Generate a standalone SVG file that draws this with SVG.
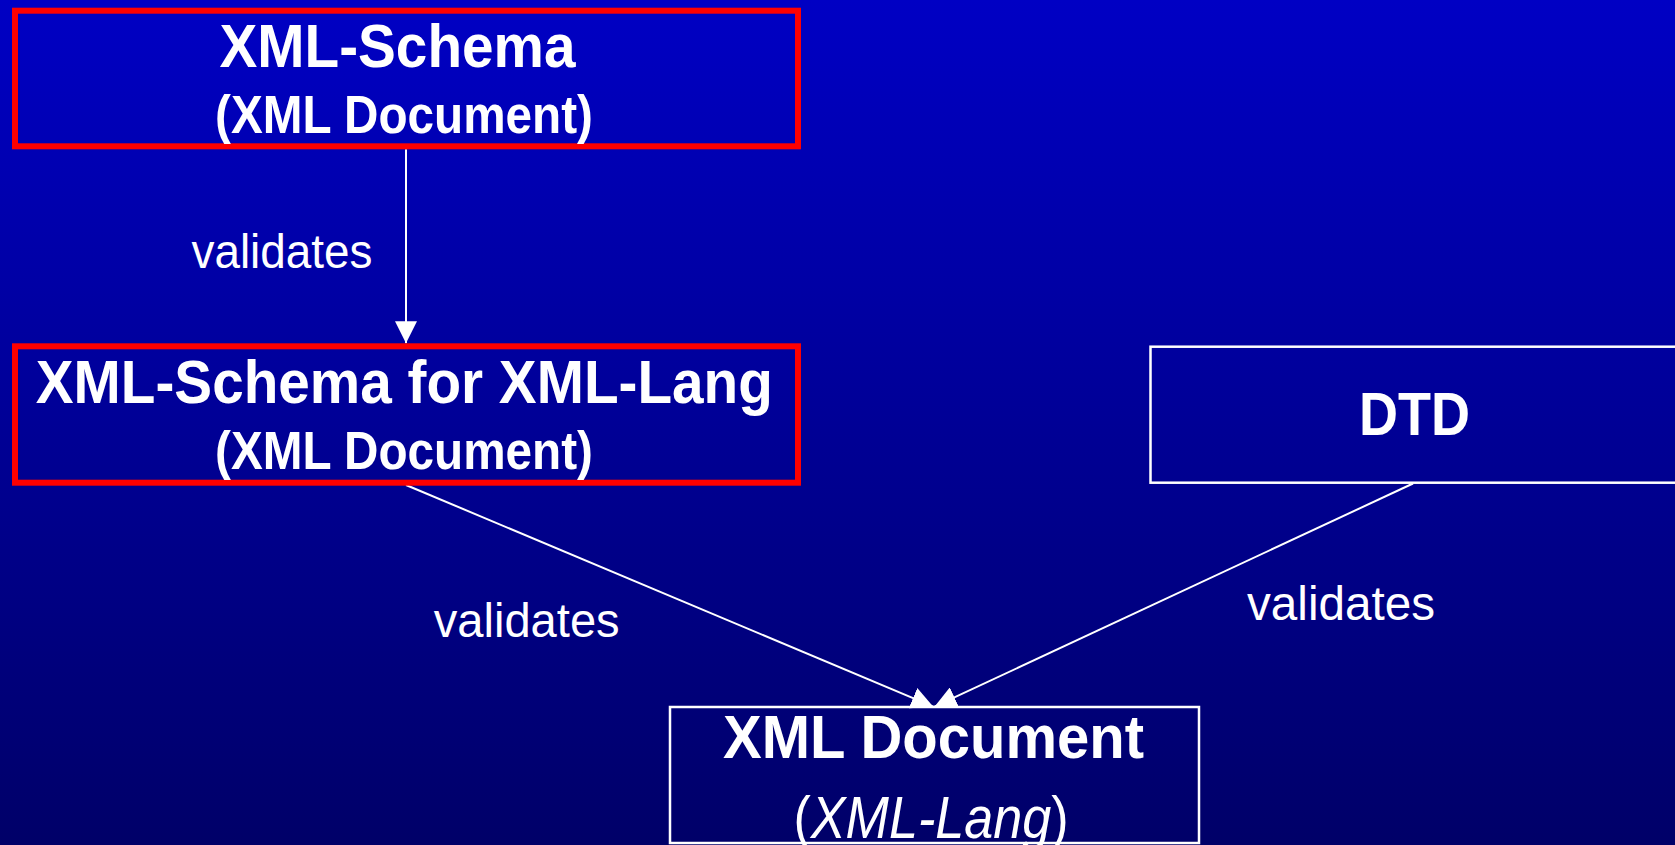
<svg xmlns="http://www.w3.org/2000/svg" width="1675" height="845" viewBox="0 0 1675 845">
<style>
.t{font-family:"Liberation Sans",Arial,sans-serif;fill:#fff;text-anchor:middle}
.b{font-weight:bold}
.red{fill:none;stroke:#ff0000;stroke-width:6}
.wb{fill:none;stroke:#fff;stroke-width:2.5}
.c{stroke:#fff;stroke-width:2;fill:none}
</style>
<defs>
<linearGradient id="bg" x1="0" y1="0" x2="0" y2="1">
<stop offset="0" stop-color="#0000c4"/>
<stop offset="1" stop-color="#000068"/>
</linearGradient>
<marker id="ah" viewBox="0 0 22 22" refX="22" refY="11" markerWidth="22" markerHeight="22" orient="auto" markerUnits="userSpaceOnUse">
<path d="M0,0 L22,11 L0,22 z" fill="#fff"/>
</marker>
</defs>
<rect x="0" y="0" width="1675" height="845" fill="url(#bg)"/>
<g id="connectors">
<line class="c" x1="406" y1="149.3" x2="406" y2="343.3" marker-end="url(#ah)"/>
<line class="c" x1="406" y1="485" x2="933.3" y2="706.7" marker-end="url(#ah)"/>
<line class="c" x1="1413" y1="483.5" x2="934.5" y2="706.7" marker-end="url(#ah)"/>
<text class="t" x="282" y="268.3" font-size="48" textLength="181" lengthAdjust="spacingAndGlyphs">validates</text>
<text class="t" x="526.7" y="636.7" font-size="48" textLength="186" lengthAdjust="spacingAndGlyphs">validates</text>
<text class="t" x="1341" y="620" font-size="48" textLength="188" lengthAdjust="spacingAndGlyphs">validates</text>
</g>
<g id="schema">
<rect class="red" x="15" y="10.7" width="783" height="135.6"/>
<text class="t b" x="397.5" y="66.7" font-size="62" textLength="356" lengthAdjust="spacingAndGlyphs">XML-Schema</text>
<text class="t b" x="404" y="133" font-size="53" textLength="378" lengthAdjust="spacingAndGlyphs">(XML Document)</text>
</g>
<g id="schema-lang">
<rect class="red" x="15" y="346.3" width="783" height="136.4"/>
<text class="t b" x="404.3" y="402.7" font-size="62" textLength="737" lengthAdjust="spacingAndGlyphs">XML-Schema for XML-Lang</text>
<text class="t b" x="404" y="469" font-size="53" textLength="378" lengthAdjust="spacingAndGlyphs">(XML Document)</text>
</g>
<g id="dtd">
<rect class="wb" x="1150.5" y="346.7" width="526" height="136"/>
<text class="t b" x="1414.5" y="435" font-size="62" textLength="111" lengthAdjust="spacingAndGlyphs">DTD</text>
</g>
<g id="xmldoc">
<rect class="wb" x="670" y="707" width="529" height="136"/>
<text class="t b" x="933.5" y="757.5" font-size="62" textLength="421" lengthAdjust="spacingAndGlyphs">XML Document</text>
<text class="t" x="931" y="838" font-size="60" textLength="275" lengthAdjust="spacingAndGlyphs">(<tspan font-style="italic">XML-Lang</tspan>)</text>
</g>
</svg>
